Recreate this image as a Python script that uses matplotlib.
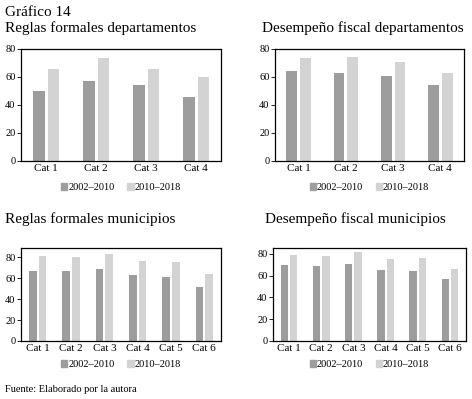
import numpy as np
import matplotlib
matplotlib.use('Agg')
from matplotlib import pyplot as plt
from matplotlib.patches import Patch

plt.rcParams['font.family'] = ['Liberation Serif', 'DejaVu Serif']

# datos
series = ['2002–2010', '2010–2018']
cats_dep = ['Cat 1', 'Cat 2', 'Cat 3', 'Cat 4']
cats_mun = ['Cat 1', 'Cat 2', 'Cat 3', 'Cat 4', 'Cat 5', 'Cat 6']

reglas_dep_a = [50, 57, 54.5, 46]
reglas_dep_b = [66, 73.5, 66, 60]
fiscal_dep_a = [64.5, 63, 61, 54]
fiscal_dep_b = [73.5, 74, 70.5, 63]
reglas_mun_a = [67, 67, 69, 63, 61.5, 51.5]
reglas_mun_b = [81, 80.5, 83, 76.5, 76, 64]
fiscal_mun_a = [70, 68.5, 70.5, 65.5, 64, 57]
fiscal_mun_b = [79.5, 78.5, 81.5, 75.5, 76, 66]

W, H = 472, 399
DARK = '#9d9d9d'
LIGHT = '#d3d3d3'

fig = plt.figure(figsize=(W / 100, H / 100), dpi=100)


def px_axes(x0, y0, x1, y1):
    # coordenadas en pixeles (origen arriba a la izquierda)
    return fig.add_axes([x0 / W, 1 - y1 / H, (x1 - x0) / W, (y1 - y0) / H])


def panel(box, cats, a, b, ymax):
    ax = px_axes(*box)
    x = np.arange(len(cats))
    ax.bar(x - 0.145, a, width=0.23, color=DARK)
    ax.bar(x + 0.145, b, width=0.23, color=LIGHT)
    ax.set_xlim(-0.5, len(cats) - 0.5)
    ax.set_ylim(0, ymax)
    ax.set_yticks([0, 20, 40, 60, 80])
    ax.set_xticks(x)
    ax.set_xticklabels(cats)
    ax.tick_params(axis='x', length=0, labelsize=8, pad=2)
    ax.tick_params(axis='y', length=3, width=0.6, labelsize=7.5, pad=1)
    for s in ax.spines.values():
        s.set_linewidth(0.9)
    handles = [Patch(color=DARK, label=series[0]), Patch(color=LIGHT, label=series[1])]
    ax.legend(handles=handles, loc='upper center', bbox_to_anchor=(0.5, -0.16),
              ncol=2, frameon=False, fontsize=7.5, handlelength=0.6, handleheight=0.6,
              handletextpad=0.1, columnspacing=1.2, borderaxespad=0)
    return ax


panel((21, 49, 221, 161), cats_dep, reglas_dep_a, reglas_dep_b, 80)
panel((275, 49, 464, 161), cats_dep, fiscal_dep_a, fiscal_dep_b, 80)
panel((21, 248, 221, 341), cats_mun, reglas_mun_a, reglas_mun_b, 89)
panel((273, 248, 466, 341), cats_mun, fiscal_mun_a, fiscal_mun_b, 85.5)

fig.text(5 / W, 1 - 12 / H, 'Gráfico 14', fontsize=11, va='center')
fig.text(5 / W, 1 - 28 / H, 'Reglas formales departamentos', fontsize=11, va='center')
fig.text(262 / W, 1 - 28 / H, 'Desempeño fiscal departamentos', fontsize=11, va='center')
fig.text(5 / W, 1 - 219 / H, 'Reglas formales municipios', fontsize=11, va='center')
fig.text(265 / W, 1 - 219 / H, 'Desempeño fiscal municipios', fontsize=11, va='center')
fig.text(5 / W, 1 - 390 / H, 'Fuente: Elaborado por la autora', fontsize=7.5, va='center')

plt.savefig('out.png', dpi=100)
